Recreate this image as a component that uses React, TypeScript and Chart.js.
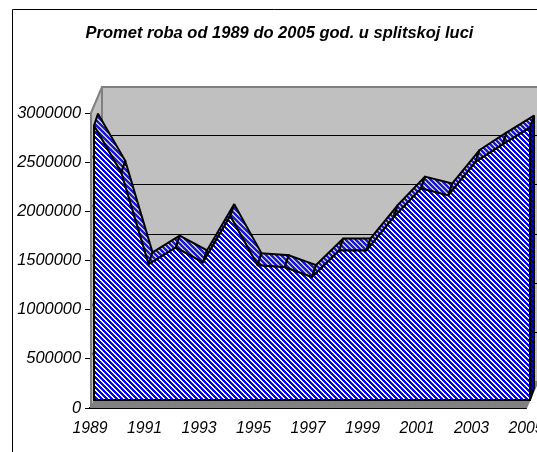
import React, { useEffect, useRef } from "react";
import { Chart, registerables } from "chart.js";

Chart.register(...registerables);

const years = ["1989","1990","1991","1992","1993","1994","1995","1996","1997","1998","1999","2000","2001","2002","2003","2004","2005"];
const cargo = [2790000,2310000,1380000,1550000,1400000,1870000,1370000,1350000,1250000,1520000,1520000,1860000,2150000,2080000,2420000,2600000,2770000];
const yTicks = [0,500000,1000000,1500000,2000000,2500000,3000000];
const titleText = "Promet roba od 1989 do 2005 god. u splitskoj luci";

const FRONT = { x: 4, y: -8 };
const BACK = { x: 8, y: -20 };
const WALL = { x: 12, y: -27 };

function stripes(fg: string, bg: string): CanvasPattern {
  const n = 5;
  const c = document.createElement("canvas");
  c.width = n;
  c.height = n;
  const g = c.getContext("2d")!;
  g.fillStyle = bg;
  g.fillRect(0, 0, n, n);
  g.fillStyle = fg;
  for (let y = 0; y < n; y++) {
    for (let x = 0; x < n; x++) {
      const k = (x - y + 2 * n) % n;
      if (k <= 2) g.fillRect(x, y, 1, 1);
    }
  }
  return g.createPattern(c, "repeat")!;
}

const depthPlugin = {
  id: "depth",
  afterLayout(chart: any) {
    // let the y tick labels use the space left of the axis box
    chart.scales.y.left = 0;
  },
  beforeDraw(chart: any) {
    const { ctx } = chart;
    ctx.save();
    ctx.fillStyle = "#fff";
    ctx.fillRect(0, 0, chart.width, chart.height);
    ctx.strokeStyle = "#000";
    ctx.lineWidth = 1;
    ctx.beginPath();
    ctx.moveTo(12.5, chart.height);
    ctx.lineTo(12.5, 9.5);
    ctx.lineTo(chart.width, 9.5);
    ctx.stroke();
    ctx.restore();
  },
  beforeDatasetsDraw(chart: any) {
    const { ctx, chartArea: a, scales } = chart;
    const ys = scales.y;
    const L = a.left, R = a.right, T = a.top, B = a.bottom;
    ctx.save();
    // back wall
    ctx.fillStyle = "#c0c0c0";
    ctx.fillRect(L + WALL.x, T + WALL.y, R - L, B - T);
    // left wall
    ctx.beginPath();
    ctx.moveTo(L, B);
    ctx.lineTo(L, T);
    ctx.lineTo(L + WALL.x, T + WALL.y);
    ctx.lineTo(L + WALL.x, B + WALL.y);
    ctx.closePath();
    ctx.fill();
    // floor
    ctx.fillStyle = "#808080";
    ctx.beginPath();
    ctx.moveTo(L, B);
    ctx.lineTo(R, B);
    ctx.lineTo(R + WALL.x, B + WALL.y);
    ctx.lineTo(L + WALL.x, B + WALL.y);
    ctx.closePath();
    ctx.fill();
    // gridlines on the back wall
    yTicks.forEach((t) => {
      if (t === 0 || t === 3000000) return;
      const y = Math.round(ys.getPixelForValue(t) + WALL.y) + 0.5;
      ctx.strokeStyle = "#000";
      ctx.lineWidth = 1;
      ctx.beginPath();
      ctx.moveTo(L + WALL.x, y);
      ctx.lineTo(R + WALL.x, y);
      ctx.stroke();
      ctx.strokeStyle = "#606060";
      ctx.beginPath();
      ctx.moveTo(L, y - WALL.y);
      ctx.lineTo(L + WALL.x, y);
      ctx.stroke();
    });
    // wall borders
    ctx.strokeStyle = "#808080";
    ctx.lineWidth = 2;
    ctx.beginPath();
    ctx.moveTo(L + 1, B);
    ctx.lineTo(L + 1, T);
    ctx.lineTo(L + WALL.x, T + WALL.y + 1);
    ctx.lineTo(chart.width, T + WALL.y + 1);
    ctx.moveTo(L + WALL.x, T + WALL.y + 1);
    ctx.lineTo(L + WALL.x, B + WALL.y);
    ctx.moveTo(R, B);
    ctx.lineTo(R + WALL.x, B + WALL.y);
    ctx.stroke();

    // ribbon between back and front outlines
    const pts = chart.getDatasetMeta(0).data;
    const rib = stripes("#1818d8", "#c0c0c8");
    ctx.lineJoin = "miter";
    ctx.miterLimit = 2;
    ctx.strokeStyle = "#000";
    ctx.lineWidth = 2;
    for (let i = 0; i < pts.length - 1; i++) {
      const p = pts[i], q = pts[i + 1];
      ctx.beginPath();
      ctx.moveTo(p.x + FRONT.x, p.y + FRONT.y);
      ctx.lineTo(q.x + FRONT.x, q.y + FRONT.y);
      ctx.lineTo(q.x + BACK.x, q.y + BACK.y);
      ctx.lineTo(p.x + BACK.x, p.y + BACK.y);
      ctx.closePath();
      ctx.fillStyle = rib;
      ctx.fill();
      ctx.stroke();
    }
    // right end face
    const e = pts[pts.length - 1];
    ctx.beginPath();
    ctx.moveTo(e.x + FRONT.x, e.y + FRONT.y);
    ctx.lineTo(e.x + BACK.x, e.y + BACK.y);
    ctx.lineTo(R + BACK.x, B + BACK.y);
    ctx.lineTo(R + FRONT.x, B + FRONT.y);
    ctx.closePath();
    ctx.fillStyle = stripes("#000080", "#0000ff");
    ctx.fill();
    ctx.stroke();
    ctx.restore();
    // the area (fill and outline) is drawn in the shifted front plane
    ctx.save();
    ctx.translate(FRONT.x, FRONT.y);
  },
  afterDatasetsDraw(chart: any) {
    const { ctx, chartArea: a } = chart;
    const pts = chart.getDatasetMeta(0).data;
    ctx.strokeStyle = "#000";
    ctx.lineWidth = 2;
    ctx.beginPath();
    ctx.moveTo(pts[0].x, pts[0].y);
    ctx.lineTo(a.left, a.bottom);
    ctx.lineTo(a.right, a.bottom);
    ctx.lineTo(pts[pts.length - 1].x, pts[pts.length - 1].y);
    ctx.stroke();
    ctx.restore();
  },
};

export default function App() {
  const ref = useRef<HTMLCanvasElement | null>(null);
  useEffect(() => {
    const chart = new Chart(ref.current!, {
      type: "line",
      data: {
        labels: years,
        datasets: [
          {
            data: cargo,
            borderColor: "#000",
            borderWidth: 2,
            backgroundColor: stripes("#0000ff", "#ffffff"),
            fill: "origin",
            pointRadius: 0,
            tension: 0,
            clip: false,
          },
        ],
      },
      options: {
        animation: false,
        responsive: false,
        layout: { padding: { left: 33, right: 11, top: 0, bottom: 0 } },
        plugins: {
          legend: { display: false },
          tooltip: { enabled: false },
          title: {
            display: true,
            text: titleText,
            color: "#000",
            font: { family: "Liberation Sans", size: 16.5, weight: "bold", style: "italic" },
            padding: { top: 24, bottom: 69.2 },
          },
        },
        scales: {
          x: {
            type: "category",
            offset: false,
            grid: { display: false, drawOnChartArea: false, drawTicks: true, tickLength: 5, tickColor: "#000", tickWidth: 1 },
            border: { color: "#000", width: 2 },
            ticks: {
              autoSkip: false,
              maxRotation: 0,
              color: "#000",
              padding: 6,
              font: { family: "Liberation Sans", size: 15.8, style: "italic" },
              callback: (_v: any, i: number) => (i % 2 === 0 ? years[i] : ""),
            },
            afterFit: (s: any) => {
              s.paddingLeft = 0;
              s.paddingRight = 0;
              s.height = 44;
            },
          },
          y: {
            min: 0,
            max: 3000000,
            grid: { display: true, drawOnChartArea: false, tickLength: 5, tickColor: "#000", tickWidth: 1 },
            border: { display: false },
            afterBuildTicks: (s: any) => {
              s.ticks = yTicks.map((value) => ({ value }));
            },
            ticks: {
              autoSkip: false,
              color: "#000",
              padding: 4,
              font: { family: "Liberation Sans", size: 16.4, style: "italic" },
              callback: (v: any) => String(v),
            },
            afterFit: (s: any) => {
              s.paddingTop = 0;
              s.paddingBottom = 0;
              s.width = 57;
            },
          },
        },
      },
      plugins: [depthPlugin],
    } as any);
    return () => chart.destroy();
  }, []);
  return (
    <div style={{ position: "absolute", left: 0, top: 0, width: 537, height: 452, overflow: "hidden" }}>
      <canvas ref={ref} width={537} height={452} style={{ display: "block" }} />
    </div>
  );
}
